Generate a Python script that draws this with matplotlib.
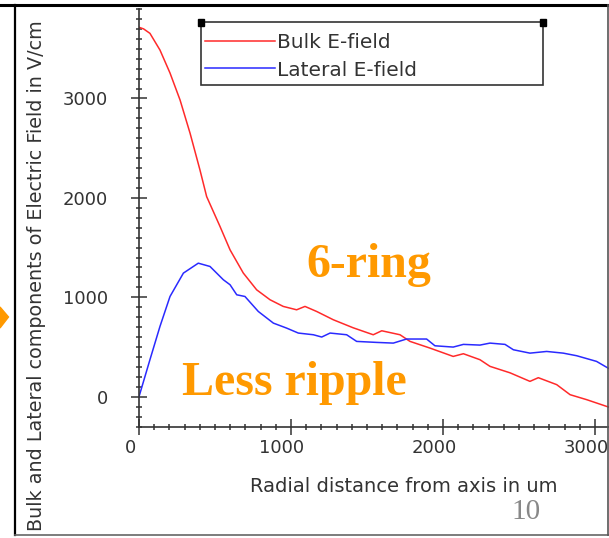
import matplotlib.pyplot as plt
from matplotlib.patches import Rectangle, Polygon
from matplotlib.lines import Line2D
from matplotlib.transforms import ScaledTranslation
from matplotlib.ticker import MultipleLocator

# values
red_x = [0, 30, 72, 138, 204, 270, 336, 401, 445, 533, 599, 686, 774, 862, 949, 1037,
         1092, 1169, 1278, 1409, 1541, 1597, 1717, 1783, 1914, 2067, 2134, 2243, 2309,
         2441, 2572, 2627, 2748, 2836, 2945, 3100]
red_y = [3716, 3700, 3655, 3487, 3256, 2985, 2650, 2281, 2013, 1712, 1477, 1244, 1075,
         975, 908, 874, 908, 857, 774, 693, 623, 663, 623, 556, 489, 405, 432, 372, 305,
         240, 154, 191, 121, 20, -30, -110]
blue_x = [0, 72, 138, 204, 292, 390, 467, 555, 599, 643, 697, 785, 884, 971, 1048, 1147,
          1202, 1257, 1366, 1432, 1563, 1673, 1760, 1892, 1947, 2067, 2134, 2243, 2309,
          2408, 2463, 2572, 2682, 2791, 2879, 3010, 3100]
blue_y = [0, 372, 707, 1008, 1243, 1343, 1310, 1176, 1126, 1025, 1008, 857, 740, 690,
          640, 623, 600, 640, 623, 556, 546, 539, 580, 580, 512, 499, 526, 519, 539, 526,
          472, 438, 455, 438, 412, 355, 275]
labels = ['Bulk E-field', 'Lateral E-field']
x_ticks = [0, 1000, 2000, 3000]
y_ticks = [0, 1000, 2000, 3000]

W, H = 609, 538
fig = plt.figure(figsize=(W / 100, H / 100), dpi=100)
sans = 'DejaVu Sans'

def fx(px):
    return px / W

def fy(py):
    return 1 - py / H

ax = fig.add_axes([fx(139), fy(426.5), fx(609) - fx(139), fy(9) - fy(426.5)])
ax.plot(red_x, red_y, color='#ff2a2a', lw=1.1)
ax.plot(blue_x, blue_y, color='#2a2aff', lw=1.1)
ax.set_xlim(0, 3092)
ax.set_ylim(-300, 3900)

for s in ['top', 'right']:
    ax.spines[s].set_visible(False)
for s in ['left', 'bottom']:
    ax.spines[s].set_color('#333333')
    ax.spines[s].set_linewidth(1.2)

ax.set_xticks(x_ticks)
ax.set_yticks(y_ticks)
ax.xaxis.set_minor_locator(MultipleLocator(100))
ax.yaxis.set_minor_locator(MultipleLocator(100))
ax.tick_params(which='major', direction='inout', length=11, width=1.1, color='#333333',
               labelsize=13, labelcolor='#333333')
ax.tick_params(which='minor', direction='inout', length=5, width=1.1, color='#333333')
ax.tick_params(axis='x', which='major', pad=3.5)
ax.tick_params(axis='y', which='major', pad=17)
for lab in ax.get_xticklabels():
    lab.set_fontfamily(sans)
    lab.set_transform(lab.get_transform() + ScaledTranslation(-0.09, 0, fig.dpi_scale_trans))
for lab in ax.get_yticklabels():
    lab.set_fontfamily(sans)

fig.text(fx(404), fy(487), 'Radial distance from axis in um', ha='center', va='center',
         fontsize=14, color='#333333', family=sans)
fig.text(fx(37), fy(276), 'Bulk and Lateral components of Electric Field in V/cm',
         ha='center', va='center', rotation=90, fontsize=13.8, color='#333333',
         family=sans)

# legend box
fig.add_artist(Rectangle((fx(201), fy(85)), fx(543) - fx(201), fy(22.5) - fy(85),
                         transform=fig.transFigure, fill=False, ec='#333333', lw=1.2))
for cx in [201, 543]:
    fig.add_artist(Rectangle((fx(cx - 3), fy(25.5)), fx(6), fy(0) - fy(6),
                             transform=fig.transFigure, color='black'))
for ly, c, lab in [(41, '#ff2a2a', labels[0]), (68, '#2a2aff', labels[1])]:
    fig.add_artist(Line2D([fx(205), fx(275)], [fy(ly), fy(ly)], color=c, lw=1.1,
                          transform=fig.transFigure))
    fig.text(fx(277), fy(ly + 2), lab, ha='left', va='center', fontsize=14.5,
             color='#333333', family=sans)

# slide annotations
fig.text(fx(306), fy(277), '6-ring', ha='left', va='baseline', fontsize=34.5,
         fontweight='bold', color='#ff9900', family='Liberation Serif')
fig.text(fx(182), fy(395), 'Less ripple', ha='left', va='baseline', fontsize=34.5,
         fontweight='bold', color='#ff9900', family='Liberation Serif')
fig.text(fx(526), fy(512), '10', ha='center', va='center', fontsize=21,
         color='#888888', family='Liberation Serif')
fig.add_artist(Polygon([(fx(0), fy(307)), (fx(8.5), fy(317)), (fx(0), fy(328))],
                       closed=True, transform=fig.transFigure, color='#ff9900'))

# slide frame
fig.add_artist(Line2D([0, 1], [fy(5), fy(5)], color='black', lw=2.2, transform=fig.transFigure))
fig.add_artist(Line2D([fx(15), fx(15)], [fy(5), fy(535)], color='black', lw=1.6,
                      transform=fig.transFigure))
fig.add_artist(Line2D([fx(15), 1], [fy(535), fy(535)], color='#666666', lw=1.2,
                      transform=fig.transFigure))
fig.add_artist(Line2D([fx(607.5), fx(607.5)], [fy(5), fy(535)], color='#555555', lw=1.2,
                      transform=fig.transFigure))

fig.savefig('out.png', dpi=100)
